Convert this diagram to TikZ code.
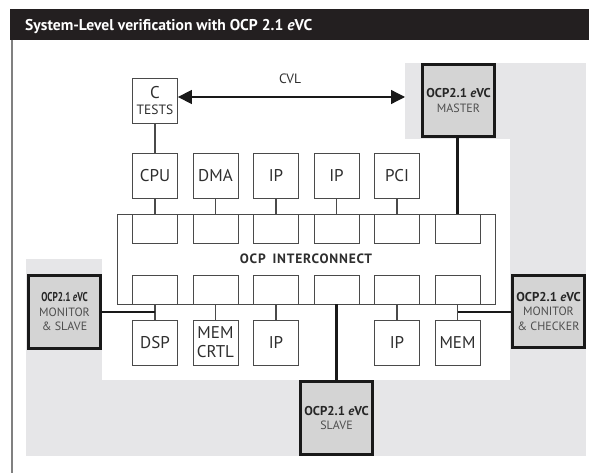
\documentclass[tikz,border=0pt]{standalone}
\usepackage{fontspec}
\usepackage{graphicx}
\setmainfont{PT Sans}
\usetikzlibrary{arrows.meta,calc}
\definecolor{bggray}{HTML}{E6E6E8}
\definecolor{evcfill}{HTML}{D4D4D4}
\definecolor{linegray}{HTML}{4A4A4A}
\definecolor{txtgray}{HTML}{2E2E2E}
\definecolor{subgray}{HTML}{4E4E4E}
\definecolor{titlebg}{HTML}{231F20}
\newcommand\evcname{\textbf{OCP2.1 \textit{e}VC}}
\newcommand\evcsub[1]{{\color{subgray}\fontsize{12}{14}\selectfont #1}}
\begin{document}
\begin{tikzpicture}[x=1pt,y=-1pt,
  mod/.style={draw=linegray, line width=0.8pt, minimum width=45pt, minimum height=45pt,
    inner sep=0pt, align=center, text=txtgray, font=\fontsize{17}{19}\selectfont},
  slot/.style={draw=linegray, line width=0.8pt, minimum width=45pt, minimum height=29pt, inner sep=0pt},
  evc/.style={draw=black!90, line width=2.6pt, fill=evcfill, minimum width=72.5pt,
    minimum height=72.5pt, inner sep=0pt, align=center, text=black!85, font=\fontsize{12.8}{14.5}\selectfont},
  thinline/.style={draw=linegray, line width=1.2pt},
  thickline/.style={draw=black!90, line width=2.8pt},
  cvlarrow/.style={draw=black!90, line width=1.3pt,
    {Triangle[length=14pt,width=14pt]}-{Triangle[length=14pt,width=14pt]}},
]
\useasboundingbox (0,0) rectangle (589,473);
% grey background zones
\fill[bggray] (405,63) rectangle (586,139);
\fill[bggray] (510,63) rectangle (586,456);
\fill[bggray] (26,259) rectangle (102,456);
\fill[bggray] (26,380) rectangle (586,456);
% title bar
\fill[titlebg] (10,9) rectangle (589,40);
\node[anchor=base west, inner sep=0pt, text=white, font=\fontsize{15.6}{18}\selectfont\bfseries] (title) at (25,30.5)
  {System-Level verification with OCP 2.1 \textit{e}VC};
\draw[gray, line width=1.5pt] (12,40) -- (12,473);

% C tests and CVL
\node[mod] (ctests) at (155,100.5) {C\\[-3pt]{\fontsize{13.5}{13}\selectfont TESTS}};
\node[text=txtgray, font=\fontsize{13.5}{14}\selectfont, inner sep=0pt] (cvl) at (290,79) {CVL};
\coordinate (cvlR) at (405,97);
\draw[cvlarrow] (ctests.east |- cvlR) -- (cvlR);

% top modules
\node[mod] (cpu) at (155,175.5) {CPU};
\node[mod] (dma) at (215.5,175.5) {DMA};
\node[mod] (ipa) at (276,175.5) {IP};
\node[mod] (ipb) at (336.5,175.5) {IP};
\node[mod] (pci) at (397,175.5) {PCI};

% interconnect
\node[draw=linegray, line width=0.8pt, minimum width=378pt, minimum height=90pt, inner sep=0pt,
  text=txtgray, font=\fontsize{13.5}{16}\selectfont\bfseries] (ic) at (306,259)
  {\addfontfeatures{LetterSpace=6}OCP\enspace INTERCONNECT};
\node[slot] (t1) at (155,228.5) {};
\node[slot] (t2) at (215.5,228.5) {};
\node[slot] (t3) at (276,228.5) {};
\node[slot] (t4) at (336.5,228.5) {};
\node[slot] (t5) at (397,228.5) {};
\node[slot] (t6) at (457.5,228.5) {};
\node[slot] (b1) at (155,289.5) {};
\node[slot] (b2) at (215.5,289.5) {};
\node[slot] (b3) at (276,289.5) {};
\node[slot] (b4) at (336.5,289.5) {};
\node[slot] (b5) at (397,289.5) {};
\node[slot] (b6) at (457.5,289.5) {};

% bottom modules
\node[mod] (dsp) at (155,342.5) {DSP};
\node[mod] (memc) at (215.5,342.5) {MEM\\CRTL};
\node[mod] (ipc) at (276,342.5) {IP};
\node[mod] (ipd) at (397,342.5) {IP};
\node[mod] (mem) at (457.5,342.5) {MEM};

% eVC boxes
\node[evc] (master) at (458.5,100.5) {\evcname\\[1pt]\evcsub{MASTER}};
\node[evc] (monl) at (64.5,312) {\scalebox{0.72}[1]{\evcname}\\\evcsub{MONITOR}\\\evcsub{\& SLAVE}};
\node[evc] (monr) at (548.5,311.5) {\evcname\\\evcsub{MONITOR}\\\evcsub{\& CHECKER}};
\node[evc] (slave) at (336.5,418) {\evcname\\\evcsub{SLAVE}};

% connectors
\draw[thinline] (ctests.south) -- (cpu.north);
\draw[thinline] (cpu.south) -- (t1.north);
\draw[thinline] (dma.south) -- (t2.north);
\draw[thinline] (ipa.south) -- (t3.north);
\draw[thinline] (ipb.south) -- (t4.north);
\draw[thinline] (pci.south) -- (t5.north);
\draw[thickline] (t6.north |- master.south) -- (t6.north);
\draw[thinline] (b1.south) -- (dsp.north);
\draw[thinline] (b2.south) -- (memc.north);
\draw[thinline] (b3.south) -- (ipc.north);
\draw[thickline] (b4.south) -- (slave.north);
\draw[thinline] (b5.south) -- (ipd.north);
\draw[thinline] (b6.south) -- (mem.north);
\coordinate (j1) at ($(b1.south)!0.5!(dsp.north)$);
\coordinate (j6) at ($(b6.south)!0.5!(mem.north)$);
\draw[thickline] (monl.east |- j1) -- (j1);
\draw[thickline] (monr.west |- j6) -- (j6);
\end{tikzpicture}
\end{document}
